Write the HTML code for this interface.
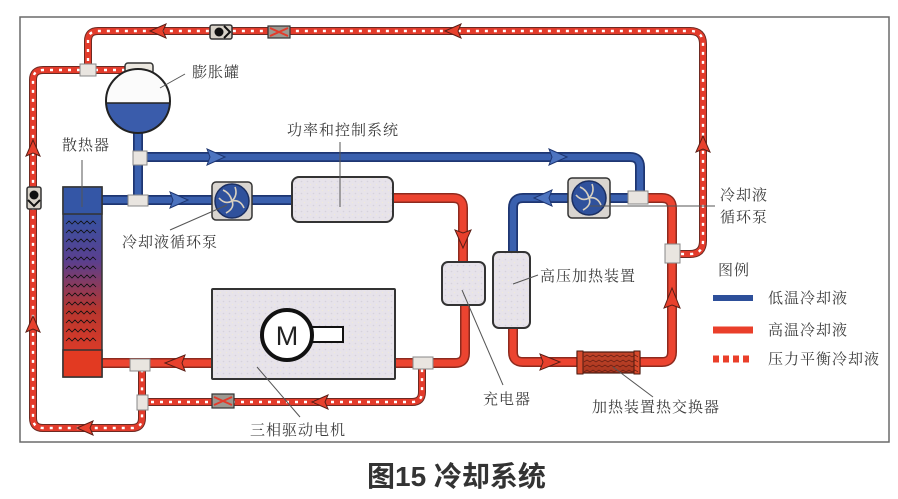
<!DOCTYPE html>
<html><head><meta charset="utf-8"><style>
html,body{margin:0;padding:0;background:#fff;}
svg{display:block;}
.po{fill:none;stroke:#6e2a22;stroke-width:8;stroke-linecap:butt;stroke-linejoin:round}
.pi{fill:none;stroke:#e33b2b;stroke-width:6;stroke-linejoin:round}
.pd{fill:none;stroke:#fff;stroke-width:2.4;stroke-dasharray:3 6}
.bo{fill:none;stroke:#1e3672;stroke-width:10;stroke-linejoin:round}
.bi{fill:none;stroke:#3a60ae;stroke-width:6.5;stroke-linejoin:round}
.ro{fill:none;stroke:#8e2a1e;stroke-width:10;stroke-linejoin:round}
.ri{fill:none;stroke:#ec4430;stroke-width:7;stroke-linejoin:round}
.lbl{font-family:"Liberation Serif","Noto Serif CJK SC",serif;font-size:15px;fill:#3c3c3c;letter-spacing:1px}
.ld{stroke:#555;stroke-width:1;fill:none}
.tee{fill:#e9e5e0;stroke:#888;stroke-width:1}
.ar{fill:#e8402c;stroke:#5a1e16;stroke-width:1}
.ab{fill:#4d74c0;stroke:#1e3672;stroke-width:1}
</style></head><body>
<svg width="898" height="499" viewBox="0 0 898 499" xmlns="http://www.w3.org/2000/svg">
<defs>
<linearGradient id="rad" x1="0" y1="213" x2="0" y2="350" gradientUnits="userSpaceOnUse">
<stop offset="0" stop-color="#3354a4"/>
<stop offset="0.35" stop-color="#5a3f8e"/>
<stop offset="0.7" stop-color="#b6362f"/>
<stop offset="1" stop-color="#d93a28"/>
</linearGradient>
<pattern id="tex" width="6" height="6" patternUnits="userSpaceOnUse">
<rect width="6" height="6" fill="#e7e3ea"/>
<circle cx="1.5" cy="1.5" r="0.8" fill="#d6d2dc"/>
<circle cx="4.5" cy="4.5" r="0.8" fill="#efe9dc"/>
</pattern>
<linearGradient id="hx" x1="0" y1="0" x2="0" y2="1">
<stop offset="0" stop-color="#c2452a"/><stop offset="1" stop-color="#a8361f"/>
</linearGradient>
<path id="p1" d="M125,70 L43,70 Q33,70 33,80 L33,418 Q33,428 43,428 L132,428 Q142,428 142,418 L142,365"/>
<path id="p2" d="M88,70 L88,41 Q88,31 98,31 L690,31 Q703,31 703,44 L703,241 Q703,254 690,254 L672,254"/>
<path id="p3" d="M142,402 L412,402 Q422,402 422,392 L422,363"/>
<path id="b1" d="M138,133 L138,201"/>
<path id="b2" d="M140,157 L630,157 Q640,157 640,167 L640,198"/>
<path id="b3" d="M102,200 L292,200"/>
<path id="b4" d="M640,198 L523,198 Q513,198 513,208 L513,252"/>
<path id="r1" d="M393,198 L453,198 Q463,198 463,208 L463,262"/>
<path id="r2" d="M465,305 L465,353 Q465,363 455,363 L395,363"/>
<path id="r3" d="M212,363 L102,363"/>
<path id="r4" d="M513,328 L513,352 Q513,362 523,362 L577,362"/>
<path id="r5" d="M640,362 L662,362 Q672,362 672,352 L672,208 Q672,198 662,198 L645,198"/>
<clipPath id="tk"><circle cx="138" cy="101" r="32"/></clipPath>
</defs>

<!-- frame -->
<rect x="20" y="17" width="869" height="425" fill="none" stroke="#6a6a6a" stroke-width="1.5"/>

<!-- pressure-balance lines -->
<g>
<use href="#p1" class="po"/><use href="#p2" class="po"/><use href="#p3" class="po"/>
<use href="#p1" class="pi"/><use href="#p2" class="pi"/><use href="#p3" class="pi"/>
<use href="#p1" class="pd"/><use href="#p2" class="pd"/><use href="#p3" class="pd"/>
</g>

<!-- blue lines -->
<use href="#b1" class="bo"/><use href="#b2" class="bo"/><use href="#b3" class="bo"/><use href="#b4" class="bo"/>
<use href="#b1" class="bi"/><use href="#b2" class="bi"/><use href="#b3" class="bi"/><use href="#b4" class="bi"/>

<!-- red lines -->
<use href="#r1" class="ro"/><use href="#r2" class="ro"/><use href="#r3" class="ro"/><use href="#r4" class="ro"/><use href="#r5" class="ro"/>
<use href="#r1" class="ri"/><use href="#r2" class="ri"/><use href="#r3" class="ri"/><use href="#r4" class="ri"/><use href="#r5" class="ri"/>

<!-- tee fittings -->
<rect class="tee" x="80" y="64" width="16" height="12"/>
<rect class="tee" x="133" y="151" width="14" height="14"/>
<rect class="tee" x="128" y="195" width="20" height="11"/>
<rect class="tee" x="130" y="359" width="20" height="12"/>
<rect class="tee" x="137" y="395" width="11" height="15"/>
<rect class="tee" x="413" y="357" width="20" height="12"/>
<rect class="tee" x="628" y="191" width="20" height="13"/>
<rect class="tee" x="665" y="244" width="15" height="19"/>

<!-- check valves -->
<g transform="translate(221,32)">
<rect x="-11" y="-7" width="22" height="14" rx="2" fill="#d8d2c8" stroke="#333" stroke-width="1.5"/>
<circle cx="-2" cy="0" r="4.5" fill="#111"/><path d="M3,-6 L9,0 L3,6" fill="none" stroke="#111" stroke-width="2"/>
</g>
<g transform="translate(34,198)">
<rect x="-7" y="-11" width="14" height="22" rx="2" fill="#d8d2c8" stroke="#333" stroke-width="1.5"/>
<circle cx="0" cy="-3" r="4.5" fill="#111"/><path d="M-6,2 L0,8 L6,2" fill="none" stroke="#111" stroke-width="2"/>
</g>
<!-- restrictors -->
<g transform="translate(279,32)">
<rect x="-11" y="-6" width="22" height="12" fill="#9c9890" stroke="#333" stroke-width="1.2"/>
<path d="M-9,-4 L9,4 M-9,4 L9,-4" stroke="#e33b2b" stroke-width="2"/>
</g>
<g transform="translate(223,401)">
<rect x="-11" y="-7" width="22" height="14" fill="#9c9890" stroke="#333" stroke-width="1.2"/>
<path d="M-9,-4 L9,4 M-9,4 L9,-4" stroke="#e33b2b" stroke-width="2"/>
</g>

<!-- expansion tank -->
<rect x="125" y="63" width="28" height="11" rx="3" fill="#ece8e0" stroke="#333" stroke-width="1.5"/>
<circle cx="138" cy="101" r="32" fill="#fbfbfb"/>
<rect x="100" y="103" width="80" height="40" fill="#3a5cab" clip-path="url(#tk)"/>
<line x1="106" y1="103" x2="170" y2="103" stroke="#222" stroke-width="1.5"/>
<circle cx="138" cy="101" r="32" fill="none" stroke="#222" stroke-width="2"/>

<!-- radiator -->
<rect x="63" y="187" width="39" height="190" fill="url(#rad)" stroke="#333" stroke-width="1.5"/>
<rect x="63" y="187" width="39" height="27" fill="#3456a6" stroke="#333" stroke-width="1.5"/>
<rect x="63" y="350" width="39" height="27" fill="#e23a22" stroke="#333" stroke-width="1.5"/>
<g stroke="#111" stroke-width="0.8" fill="none">
<path d="M66,224 l3,-3 3,3 3,-3 3,3 3,-3 3,3 3,-3 3,3 3,-3 3,3"/>
<path d="M66,233 l3,-3 3,3 3,-3 3,3 3,-3 3,3 3,-3 3,3 3,-3 3,3"/>
<path d="M66,242 l3,-3 3,3 3,-3 3,3 3,-3 3,3 3,-3 3,3 3,-3 3,3"/>
<path d="M66,251 l3,-3 3,3 3,-3 3,3 3,-3 3,3 3,-3 3,3 3,-3 3,3"/>
<path d="M66,260 l3,-3 3,3 3,-3 3,3 3,-3 3,3 3,-3 3,3 3,-3 3,3"/>
<path d="M66,269 l3,-3 3,3 3,-3 3,3 3,-3 3,3 3,-3 3,3 3,-3 3,3"/>
<path d="M66,278 l3,-3 3,3 3,-3 3,3 3,-3 3,3 3,-3 3,3 3,-3 3,3"/>
<path d="M66,287 l3,-3 3,3 3,-3 3,3 3,-3 3,3 3,-3 3,3 3,-3 3,3"/>
<path d="M66,296 l3,-3 3,3 3,-3 3,3 3,-3 3,3 3,-3 3,3 3,-3 3,3"/>
<path d="M66,305 l3,-3 3,3 3,-3 3,3 3,-3 3,3 3,-3 3,3 3,-3 3,3"/>
<path d="M66,314 l3,-3 3,3 3,-3 3,3 3,-3 3,3 3,-3 3,3 3,-3 3,3"/>
<path d="M66,323 l3,-3 3,3 3,-3 3,3 3,-3 3,3 3,-3 3,3 3,-3 3,3"/>
<path d="M66,332 l3,-3 3,3 3,-3 3,3 3,-3 3,3 3,-3 3,3 3,-3 3,3"/>
<path d="M66,341 l3,-3 3,3 3,-3 3,3 3,-3 3,3 3,-3 3,3 3,-3 3,3"/>
</g>

<!-- pumps -->
<g transform="translate(232,201)">
<rect x="-20" y="-19" width="40" height="38" rx="4" fill="#d9d5d0" stroke="#333" stroke-width="1.5"/>
<circle r="17" fill="#2f519c" stroke="#1b2f62" stroke-width="1.5"/>
<g stroke="#d8d0c0" stroke-width="1.6" fill="none">
<path d="M0,0 Q6,-6 3,-14"/><path d="M0,0 Q8,-2 12,7"/><path d="M0,0 Q3,7 -6,12"/><path d="M0,0 Q-7,4 -13,-3"/><path d="M0,0 Q-2,-8 -9,-11"/>
</g>
</g>
<g transform="translate(589,198)">
<rect x="-21" y="-20" width="42" height="40" rx="4" fill="#d9d5d0" stroke="#333" stroke-width="1.5"/>
<circle r="17" fill="#2f519c" stroke="#1b2f62" stroke-width="1.5"/>
<g stroke="#d8d0c0" stroke-width="1.6" fill="none">
<path d="M0,0 Q6,-6 3,-14"/><path d="M0,0 Q8,-2 12,7"/><path d="M0,0 Q3,7 -6,12"/><path d="M0,0 Q-7,4 -13,-3"/><path d="M0,0 Q-2,-8 -9,-11"/>
</g>
</g>

<!-- boxes -->
<rect x="292" y="177" width="101" height="45" rx="7" fill="url(#tex)" stroke="#333" stroke-width="2"/>
<rect x="442" y="262" width="43" height="43" rx="6" fill="url(#tex)" stroke="#333" stroke-width="2"/>
<rect x="493" y="252" width="37" height="76" rx="6" fill="url(#tex)" stroke="#333" stroke-width="2"/>
<rect x="212" y="289" width="183" height="90" rx="1" fill="url(#tex)" stroke="#333" stroke-width="2"/>

<!-- motor -->
<rect x="310" y="327" width="33" height="15" fill="#fff" stroke="#111" stroke-width="2"/>
<circle cx="287" cy="335" r="25" fill="#fff" stroke="#111" stroke-width="4"/>
<text x="287" y="345" text-anchor="middle" font-family="Liberation Sans, sans-serif" font-size="27" fill="#222">M</text>

<!-- heat exchanger -->
<rect x="577" y="352" width="63" height="21" fill="url(#hx)" stroke="#4a1a10" stroke-width="1.2"/>
<rect x="577" y="351" width="6" height="23" fill="#d84a2c" stroke="#4a1a10" stroke-width="1"/>
<rect x="634" y="351" width="6" height="23" fill="#d84a2c" stroke="#4a1a10" stroke-width="1"/>
<g stroke="#5a1a10" stroke-width="0.7" fill="none">
<path d="M584,357 l3,-2 3,2 3,-2 3,2 3,-2 3,2 3,-2 3,2 3,-2 3,2 3,-2 3,2 3,-2 3,2 3,-2 3,2 3,-2 3,2"/>
<path d="M584,362 l3,-2 3,2 3,-2 3,2 3,-2 3,2 3,-2 3,2 3,-2 3,2 3,-2 3,2 3,-2 3,2 3,-2 3,2 3,-2 3,2"/>
<path d="M584,367 l3,-2 3,2 3,-2 3,2 3,-2 3,2 3,-2 3,2 3,-2 3,2 3,-2 3,2 3,-2 3,2 3,-2 3,2 3,-2 3,2"/>
<path d="M584,372 l3,-2 3,2 3,-2 3,2 3,-2 3,2 3,-2 3,2 3,-2 3,2 3,-2 3,2 3,-2 3,2 3,-2 3,2 3,-2 3,2"/>
</g>

<!-- arrows: pressure -->
<polygon class="ar" points="150,31 166,24 163,31 166,38"/>
<polygon class="ar" points="445,31 461,24 458,31 461,38"/>
<polygon class="ar" points="33,140 26,156 33,153 40,156"/>
<polygon class="ar" points="33,316 26,332 33,329 40,332"/>
<polygon class="ar" points="703,136 696,152 703,149 710,152"/>
<polygon class="ar" points="77,428 93,421 90,428 93,435"/>
<polygon class="ar" points="312,402 328,395 325,402 328,409"/>
<!-- arrows: blue -->
<polygon class="ab" points="225,157 207,149 210,157 207,165"/>
<polygon class="ab" points="567,157 549,149 552,157 549,165"/>
<polygon class="ab" points="188,200 170,192 173,200 170,208"/>
<polygon class="ab" points="534,198 552,190 549,198 552,206"/>
<!-- arrows: red -->
<polygon class="ar" points="463,248 455,230 463,233 471,230"/>
<polygon class="ar" points="165,363 185,355 182,363 185,371"/>
<polygon class="ar" points="560,362 540,354 543,362 540,370"/>
<polygon class="ar" points="672,288 664,308 672,305 680,308"/>

<!-- leaders -->
<line class="ld" x1="160" y1="88" x2="185" y2="74"/>
<line class="ld" x1="82" y1="160" x2="82" y2="207"/>
<line class="ld" x1="340" y1="142" x2="340" y2="207"/>
<line class="ld" x1="227" y1="205" x2="170" y2="230"/>
<line class="ld" x1="590" y1="206" x2="715" y2="206"/>
<line class="ld" x1="513" y1="284" x2="538" y2="275"/>
<line class="ld" x1="462" y1="290" x2="503" y2="385"/>
<line class="ld" x1="613" y1="367" x2="653" y2="397"/>
<line class="ld" x1="257" y1="367" x2="300" y2="417"/>

<!-- labels -->
<text class="lbl" x="192" y="77">膨胀罐</text>
<text class="lbl" x="62" y="150">散热器</text>
<text class="lbl" x="287" y="135">功率和控制系统</text>
<text class="lbl" x="122" y="247">冷却液循环泵</text>
<text class="lbl" x="720" y="200">冷却液</text>
<text class="lbl" x="720" y="222">循环泵</text>
<text class="lbl" x="540" y="281">高压加热装置</text>
<text class="lbl" x="718" y="275">图例</text>
<text class="lbl" x="768" y="303">低温冷却液</text>
<text class="lbl" x="768" y="335">高温冷却液</text>
<text class="lbl" x="768" y="364">压力平衡冷却液</text>
<text class="lbl" x="483" y="404">充电器</text>
<text class="lbl" x="592" y="412">加热装置热交换器</text>
<text class="lbl" x="250" y="435">三相驱动电机</text>

<!-- legend lines -->
<line x1="713" y1="298" x2="753" y2="298" stroke="#2d4f9a" stroke-width="6"/>
<line x1="713" y1="330" x2="753" y2="330" stroke="#ea3f2a" stroke-width="7"/>
<line x1="713" y1="359" x2="753" y2="359" stroke="#ea3f2a" stroke-width="7" stroke-dasharray="6 4"/>

<!-- title -->
<text x="367" y="486" font-family="Liberation Sans, 'Noto Sans CJK SC', sans-serif" font-weight="bold" font-size="28" fill="#333">图15 冷却系统</text>
</svg>
</body></html>
